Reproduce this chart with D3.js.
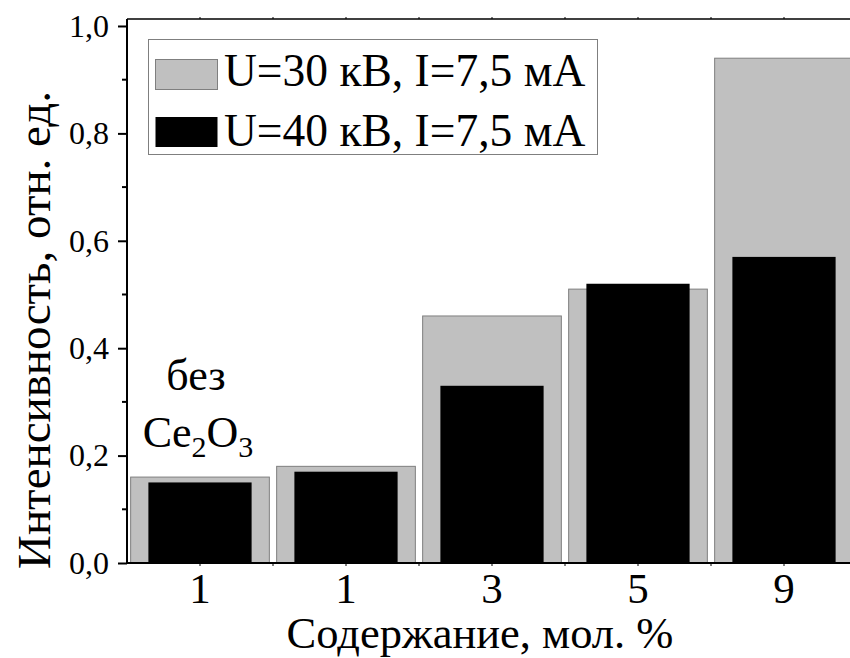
<!DOCTYPE html>
<html>
<head>
<meta charset="utf-8">
<script src="https://cdn.jsdelivr.net/npm/d3@7"></script>
<style>
  html, body { margin: 0; padding: 0; background: #fff; overflow: hidden; }
  svg { display: block; font-family: "Liberation Serif", "Times New Roman", serif; }
</style>
</head>
<body>
<svg id="chart" width="850" height="658"></svg>
<script>
// ---- data ----
const categories = ["1", "1", "3", "5", "9"];
const series30 = [0.16, 0.18, 0.46, 0.51, 0.94];   // U=30 кВ, I=7,5 мА
const series40 = [0.15, 0.17, 0.33, 0.52, 0.57];   // U=40 кВ, I=7,5 мА
const seriesNames = ["U=30 кВ, I=7,5 мА", "U=40 кВ, I=7,5 мА"];
const yTickValues = [0, 0.2, 0.4, 0.6, 0.8, 1.0];
const yMinorValues = [0.1, 0.3, 0.5, 0.7, 0.9];
const xTitle = "Содержание, мол. %";
const yTitle = "Интенсивность, отн. ед.";

// ---- layout ----
const svg = d3.select("#chart");
const pLeft = 127, pRight = 857, pTop = 19, pBottom = 563;

const x = d3.scaleBand().domain(d3.range(categories.length)).range([pLeft, pRight]).paddingInner(0).paddingOuter(0);
const y = d3.scaleLinear().domain([0, 1.013]).range([pBottom, pTop]);

const grayW = x.bandwidth() * 0.95;
const blackW = x.bandwidth() * 0.707;

// bars: gray (30 kV)
svg.append("g").selectAll("rect").data(series30).join("rect")
  .attr("x", (d, i) => x(i) + x.bandwidth() / 2 - grayW / 2)
  .attr("y", d => y(d))
  .attr("width", grayW)
  .attr("height", d => y(0) - y(d))
  .attr("fill", "#c0c0c0")
  .attr("stroke", "#7f7f7f")
  .attr("stroke-width", 1);

// bars: black (40 kV)
svg.append("g").selectAll("rect").data(series40).join("rect")
  .attr("x", (d, i) => x(i) + x.bandwidth() / 2 - blackW / 2)
  .attr("y", d => y(d))
  .attr("width", blackW)
  .attr("height", d => y(0) - y(d))
  .attr("fill", "#000");

// half-step tick positions for top/bottom axes
const halfTicks = [];
for (let i = 0; i < categories.length; i++) {
  halfTicks.push(x(i) + x.bandwidth() / 2);
  if (i > 0) halfTicks.push(x(i));
}

// top axis line
svg.append("line").attr("x1", pLeft).attr("x2", 850).attr("y1", pTop).attr("y2", pTop)
  .attr("stroke", "#000").attr("stroke-width", 1.5);
svg.append("g").selectAll("line").data(halfTicks).join("line")
  .attr("x1", d => d).attr("x2", d => d).attr("y1", pTop).attr("y2", pTop - 2)
  .attr("stroke", "#000").attr("stroke-width", 1);

// bottom axis
const xAxis = d3.axisBottom(x).tickFormat(i => categories[i]).tickSize(0).tickPadding(9);
const gx = svg.append("g").attr("transform", `translate(0,${pBottom})`).call(xAxis);
gx.select(".domain").remove();
gx.selectAll("text").attr("font-size", 43).attr("font-family", "Liberation Serif").attr("fill", "#000");
svg.append("line").attr("x1", pLeft).attr("x2", 850).attr("y1", pBottom).attr("y2", pBottom)
  .attr("stroke", "#000").attr("stroke-width", 2);
svg.append("g").selectAll("line").data(halfTicks).join("line")
  .attr("x1", d => d).attr("x2", d => d).attr("y1", pBottom).attr("y2", pBottom + 3)
  .attr("stroke", "#000").attr("stroke-width", 1);

// left axis
const yAxis = d3.axisLeft(y).tickValues(yTickValues).tickFormat(d => d3.format(".1f")(d).replace(".", ","))
  .tickSize(9).tickPadding(9);
const gy = svg.append("g").attr("transform", `translate(${pLeft},0)`).call(yAxis);
gy.select(".domain").remove();
gy.selectAll(".tick line").attr("stroke-width", 2);
gy.selectAll("text").attr("font-size", 32).attr("font-family", "Liberation Serif").attr("fill", "#000");
svg.append("g").selectAll("line").data(yMinorValues).join("line")
  .attr("x1", pLeft - 5).attr("x2", pLeft).attr("y1", d => y(d)).attr("y2", d => y(d))
  .attr("stroke", "#000").attr("stroke-width", 2);
svg.append("line").attr("x1", pLeft).attr("x2", pLeft).attr("y1", pTop).attr("y2", pBottom + 1)
  .attr("stroke", "#000").attr("stroke-width", 2);

// axis titles
svg.append("text").attr("x", 480).attr("y", 647.5).attr("text-anchor", "middle")
  .attr("font-size", 44.5).text(xTitle);
svg.append("text").attr("transform", "translate(50,330) rotate(-90)").attr("text-anchor", "middle")
  .attr("font-size", 47).text(yTitle);

// annotation
const annX = x(0) + x.bandwidth() / 2 - 4;
svg.append("text").attr("x", annX).attr("y", 390).attr("text-anchor", "middle")
  .attr("font-size", 44).text("без");
const ce = svg.append("text").attr("x", annX + 2).attr("y", 447).attr("text-anchor", "middle")
  .attr("font-size", 44);
ce.append("tspan").text("Ce");
ce.append("tspan").attr("font-size", 30).attr("dy", 10).text("2");
ce.append("tspan").attr("dy", -10).text("O");
ce.append("tspan").attr("font-size", 30).attr("dy", 10).text("3");

// legend
const lg = svg.append("g");
lg.append("rect").attr("x", 148.5).attr("y", 39.5).attr("width", 449).attr("height", 115)
  .attr("fill", "#fff").attr("stroke", "#7f7f7f").attr("stroke-width", 1);
const swatchFill = ["#c0c0c0", "#000"];
const swatchStroke = ["#7f7f7f", "none"];
const swY = [59.5, 117];
const txtY = [86, 146];
seriesNames.forEach((name, i) => {
  lg.append("rect").attr("x", 155.5).attr("y", swY[i]).attr("width", 62).attr("height", 30)
    .attr("fill", swatchFill[i]).attr("stroke", swatchStroke[i]).attr("stroke-width", 1);
  lg.append("text").attr("x", 224).attr("y", txtY[i]).attr("font-size", 45.5).text(name);
});
</script>
</body>
</html>
